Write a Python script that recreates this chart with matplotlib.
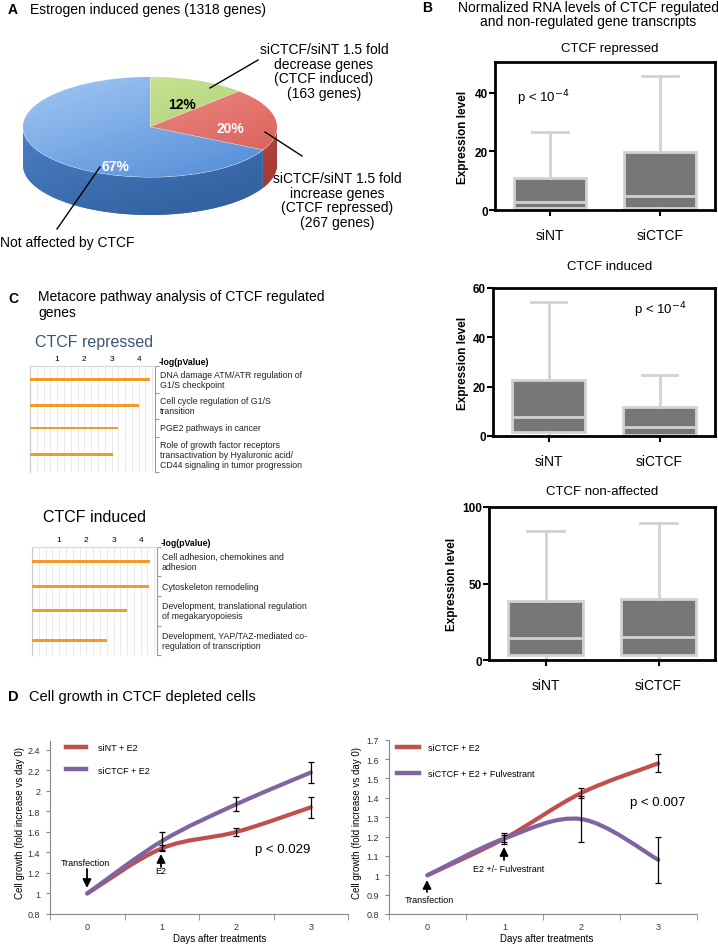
import numpy as np
import matplotlib
matplotlib.use('Agg')
import matplotlib.pyplot as plt
from matplotlib.patches import Wedge, Polygon, PathPatch
from matplotlib.path import Path
from matplotlib.transforms import Affine2D
from matplotlib.colors import LinearSegmentedColormap

plt.rcParams['font.family'] = ['Liberation Sans', 'DejaVu Sans']

# ---------------- data ----------------
# A: estrogen induced genes split by CTCF effect
pie_genes = [163, 267, 888]          # CTCF induced, CTCF repressed, not affected

# B: box plots, five-number summaries (low whisker, q1, median, q3, high whisker)
box_groups = ['siNT', 'siCTCF']
box_repressed = [[0, 0.6, 2.8, 10.8, 26.6], [0, 0.8, 4.8, 19.7, 45.7]]
box_induced = [[0, 1.8, 7.8, 22.8, 54.5], [0, 0.6, 3.6, 11.9, 24.9]]
box_nonaffected = [[0, 3.0, 14.7, 38.5, 84.4], [0, 3.0, 15.0, 40.0, 89.8]]

# C: Metacore pathways, -log(pValue)
rep_pathways = ['DNA damage ATM/ATR regulation of\nG1/S checkpoint',
                'Cell cycle regulation of G1/S\ntransition',
                'PGE2 pathways in cancer',
                'Role of growth factor receptors\ntransactivation by Hyaluronic acid/\nCD44 signaling in tumor progression']
rep_logp = [4.4, 4.0, 3.25, 3.07]
ind_pathways = ['Cell adhesion, chemokines and\nadhesion',
                'Cytoskeleton remodeling',
                'Development, translational regulation\nof megakaryopoiesis',
                'Development, YAP/TAZ-mediated co-\nregulation of transcription']
ind_logp = [4.35, 4.3, 3.5, 2.77]

# D: cell growth (fold increase vs day 0)
days = [0, 1, 2, 3]
sint_e2 = [1.0, 1.44, 1.60, 1.84]
sint_e2_err = [0, 0.03, 0.035, 0.10]
sictcf_e2 = [1.0, 1.51, 1.87, 2.18]
sictcf_e2_err = [0, 0.09, 0.07, 0.10]
sictcf_e2b = [1.0, 1.19, 1.425, 1.578]
sictcf_e2b_err = [0, 0.03, 0.028, 0.046]
sictcf_fulv = [1.0, 1.19, 1.29, 1.08]
sictcf_fulv_err = [0, 0.02, 0.12, 0.12]

RED = '#c0504d'
PURPLE = '#8064a2'

W, H = 718, 945
fig = plt.figure(figsize=(W / 100, H / 100), dpi=100)


def ax_px(l, t, r, b):
    return fig.add_axes([l / W, 1 - b / H, (r - l) / W, (b - t) / H])


def txt(x, y, s, **kw):
    kw.setdefault('va', 'center')
    return fig.text(x / W, 1 - y / H, s, **kw)


# ---------------- B: box plots ----------------
def boxpanel(rect, data, ymax, yticks):
    ax = ax_px(*rect)
    stats = [dict(whislo=r[0], q1=r[1], med=r[2], q3=r[3], whishi=r[4], label=g)
             for r, g in zip(data, box_groups)]
    light = '#d2d2d2'
    ax.bxp(stats, positions=[1, 2], widths=0.66, capwidths=0.32, showfliers=False,
           patch_artist=True,
           boxprops=dict(facecolor='#777777', edgecolor=light, lw=2),
           whiskerprops=dict(color=light, lw=2), capprops=dict(color=light, lw=2),
           medianprops=dict(color=light, lw=2))
    ax.set_xlim(0.5, 2.5)
    ax.set_ylim(0, ymax)
    ax.set_yticks(yticks)
    for s in ax.spines.values():
        s.set_linewidth(2)
    ax.tick_params(axis='y', length=4, width=1.5, labelsize=8.5, pad=1)
    ax.tick_params(axis='x', length=4, width=1.5, labelsize=10, pad=9)
    for lb in ax.get_yticklabels():
        lb.set_fontweight('bold')
    return ax


boxpanel((495, 63, 715, 211), box_repressed, 50.5, [0, 20, 40])
boxpanel((493, 289, 715, 437), box_induced, 60, [0, 20, 40, 60])
boxpanel((489, 508, 715, 661), box_nonaffected, 100, [0, 50, 100])

txt(427, 8, 'B', fontsize=10, fontweight='bold', ha='center')
txt(588, 15, 'Normalized RNA levels of CTCF regulated\nand non-regulated gene transcripts',
    fontsize=10, ha='center', linespacing=1.05)
txt(610, 49, 'CTCF repressed', fontsize=9.5, ha='center')
txt(610, 267, 'CTCF induced', fontsize=9.5, ha='center')
txt(602, 492, 'CTCF non-affected', fontsize=9.5, ha='center')
for x, y in [(463, 137), (463, 363), (452, 584)]:
    txt(x, y, 'Expression level', fontsize=8.5, fontweight='bold', rotation=90, ha='center')
txt(543, 98, r'p < 10$^{-4}$', fontsize=9.5, ha='center')
txt(660, 310, r'p < 10$^{-4}$', fontsize=9.5, ha='center')


# ---------------- C: pathway bars ----------------
def pathpanel(rect, names, vals):
    ax = ax_px(*rect)
    units = [n.count('\n') + 2 for n in names]
    edges = np.concatenate([[0], np.cumsum(units)])
    centers = (edges[:-1] + edges[1:]) / 2
    ax.barh(centers, vals, height=0.3, color='#f39a2b', zorder=3)
    ax.set_xlim(0, 4.6)
    ax.set_ylim(edges[-1], 0)
    ax.set_xticks([1, 2, 3, 4])
    ax.set_xticks(np.arange(0.25, 4.6, 0.25), minor=True)
    ax.xaxis.tick_top()
    ax.tick_params(axis='x', which='both', length=0, labelsize=6, pad=3)
    ax.grid(axis='x', which='both', color='#e6e6e6', lw=0.6)
    ax.yaxis.tick_right()
    ax.set_yticks(edges)
    ax.set_yticklabels([])
    ax.tick_params(axis='y', length=3, color='#999999', width=0.8)
    ax.spines['bottom'].set_visible(False)
    ax.spines['top'].set_color('#d8d8d8')
    ax.spines['left'].set_color('#c8c8c8')
    ax.spines['right'].set_color('#9a9a9a')
    for s in ax.spines.values():
        s.set_linewidth(0.8)
    for c, n in zip(centers, names):
        ax.text(1.04, c, n, transform=ax.get_yaxis_transform(), fontsize=6.3,
                va='center', ha='left', color='#222222', linespacing=1.15)
    ax.text(1.03, 1.0, '-log(pValue)', transform=ax.transAxes, fontsize=6.3,
            fontweight='bold', va='bottom', ha='left')
    return ax


ca = pathpanel((30, 367, 155, 473), rep_pathways, rep_logp)
cb = pathpanel((32, 548, 157, 656), ind_pathways, ind_logp)

txt(8, 299, 'C', fontsize=10, fontweight='bold')
txt(38, 305, 'Metacore pathway analysis of CTCF regulated\ngenes', fontsize=10,
    linespacing=1.2)
txt(35, 342, 'CTCF repressed', fontsize=11.5, color='#3d5575')
txt(43, 518, 'CTCF induced', fontsize=11.5)


# ---------------- D: cell growth ----------------
def smooth(xs, ys):
    pts = np.column_stack([xs, ys]).astype(float)
    n = len(pts)
    verts, codes = [pts[0]], [Path.MOVETO]
    for i in range(n - 1):
        p0, p1, p2, p3 = pts[max(i - 1, 0)], pts[i], pts[i + 1], pts[min(i + 2, n - 1)]
        verts += [p1 + (p2 - p0) / 6, p2 - (p3 - p1) / 6, p2]
        codes += [Path.CURVE4] * 3
    return Path(verts, codes)


def growth(rect, ylim, ystep, series):
    ax = ax_px(*rect)
    for vals, err, col, lab in series:
        ax.add_patch(PathPatch(smooth(days, vals), fill=False, edgecolor=col, lw=3,
                               capstyle='round', zorder=2))
        ax.plot([], [], color=col, lw=3.2, label=lab)
        ax.errorbar(days[1:], vals[1:], yerr=err[1:], fmt='none', ecolor='k',
                    elinewidth=0.9, capsize=2.5, capthick=0.9, zorder=3)
    ax.set_xlim(-0.5, 3.5)
    ax.set_ylim(*ylim)
    ax.set_xticks(days)
    ax.set_xticks(np.array(days + [days[-1] + 1]) - 0.5, minor=True)
    yt = np.arange(ylim[0], ylim[1] + 1e-6, ystep)
    ax.set_yticks(yt)
    ax.set_yticklabels([f'{round(v, 2):g}' for v in yt])
    ax.tick_params(axis='x', which='major', length=0, pad=6)
    ax.tick_params(axis='x', which='minor', length=4, color='#888888')
    ax.tick_params(axis='y', length=3, color='#888888', pad=4)
    ax.tick_params(labelsize=6.5, labelcolor='#333333')
    for s in ['top', 'right']:
        ax.spines[s].set_visible(False)
    for s in ['left', 'bottom']:
        ax.spines[s].set_color('#888888')
        ax.spines[s].set_linewidth(0.8)
    return ax


da = growth((50, 741.7, 348, 915), (0.8, 2.4), 0.2,
            [(sint_e2, sint_e2_err, RED, 'siNT + E2'),
             (sictcf_e2, sictcf_e2_err, PURPLE, 'siCTCF + E2')])
da.set_ylim(0.8, 2.49)
da.legend(loc='upper left', bbox_to_anchor=(66 / W, 1 - 744 / H), bbox_transform=fig.transFigure,
          frameon=False, fontsize=6.5, handlelength=2.2, handletextpad=1.3, labelspacing=1.5,
          borderaxespad=0, borderpad=0)

db = growth((389, 740.7, 696.7, 915), (0.8, 1.7), 0.1,
            [(sictcf_e2b, sictcf_e2b_err, RED, 'siCTCF + E2'),
             (sictcf_fulv, sictcf_fulv_err, PURPLE, 'siCTCF + E2 + Fulvestrant')])
db.legend(loc='upper left', bbox_to_anchor=(397 / W, 1 - 744 / H), bbox_transform=fig.transFigure,
          frameon=False, fontsize=6.5, handlelength=2.4, handletextpad=1.0, labelspacing=1.9,
          borderaxespad=0, borderpad=0)

txt(8, 697, 'D', fontsize=10.5, fontweight='bold')
txt(29, 697, 'Cell growth in CTCF depleted cells', fontsize=10.5)
txt(20, 823, 'Cell growth (fold increase vs day 0)', fontsize=7, rotation=90, ha='center')
txt(357, 823, 'Cell growth (fold increase vs day 0)', fontsize=7, rotation=90, ha='center')
txt(220, 939, 'Days after treatments', fontsize=7, ha='center')
txt(547, 939, 'Days after treatments', fontsize=7, ha='center')
txt(283, 850, 'p < 0.029', fontsize=9.5, ha='center')
txt(658, 803, 'p < 0.007', fontsize=9.5, ha='center')
txt(85, 863, 'Transfection', fontsize=6.5, ha='center')
txt(161, 872, 'E2', fontsize=6.5, ha='center')
txt(509, 870, 'E2 +/- Fulvestrant', fontsize=6.5, ha='center')
txt(429, 901, 'Transfection', fontsize=6.5, ha='center')

# ---------------- overlay in pixel units: pie, leader lines, arrows ----------------
ov = fig.add_axes([0, 0, 1, 1], zorder=10)
ov.set_facecolor('none')
ov.axis('off')

cx, cy, rx, ry, depth = 150, 128, 127, 50, 38
tops = [('#d3ea9f', '#9fc764'), ('#f39a92', '#d85a54'), ('#a3c8f4', '#4f8ad6')]
sides = [('#8fb35a', '#6f9040'), ('#c8504a', '#9c3430'), ('#4a7fc4', '#2f5c9a')]
pcts = np.array(pie_genes) / sum(pie_genes) * 100
bounds = 90 - np.concatenate([[0], np.cumsum(pcts)]) * 3.6


def shade(patch, c1, c2, box):
    ov.add_patch(patch)
    x0, x1, y0, y1 = box
    t = np.linspace(0, 1, 80)
    g = 0.45 * t[None, :] + 0.55 * t[:, None]
    im = ov.imshow(g, cmap=LinearSegmentedColormap.from_list('g', [c1, c2]),
                   extent=(x0, x1, y1, y0), origin='upper', aspect='auto',
                   interpolation='bilinear', zorder=patch.get_zorder())
    im.set_clip_path(patch)


def ell(th):
    th = np.radians(th)
    return np.column_stack([cx + rx * np.cos(th), cy - ry * np.sin(th)])


for i in range(len(pie_genes)):
    hi, lo = bounds[i], bounds[i + 1]
    for k in (-360, 0, 360):
        a, b = max(lo, -180 + k), min(hi, k)
        if b > a:
            top = ell(np.linspace(b, a, 80))
            poly = np.vstack([top, (top + [0, depth])[::-1]])
            shade(Polygon(poly, closed=True, facecolor=sides[i][0], edgecolor='none', zorder=1),
                  sides[i][0], sides[i][1], (cx - rx, cx + rx, cy, cy + ry + depth))
for i in range(len(pie_genes)):
    w = Wedge((0, 0), 1, bounds[i + 1], bounds[i], facecolor=tops[i][0],
              edgecolor='#f4f4f4', lw=0.6, zorder=2)
    w.set_transform(Affine2D().scale(rx, -ry).translate(cx, cy) + ov.transData)
    shade(w, tops[i][0], tops[i][1], (cx - rx, cx + rx, cy - ry, cy + ry))

ov.set_xlim(0, W)
ov.set_ylim(H, 0)

pct_pos = [(182, 105), (230, 129), (115, 167)]
pct_col = ['black', 'white', 'white']
for p, (x, y), c in zip(pcts, pct_pos, pct_col):
    ov.text(x, y, f'{p:.0f}%', fontsize=10, fontweight='bold', color=c, ha='center',
            va='center', zorder=5)

for (x0, y0), (x1, y1) in [((258, 61), (210, 89)), ((302, 157), (265, 133)),
                           ((57, 230), (100, 168))]:
    ov.plot([x0, x1], [y0, y1], color='black', lw=1, zorder=6)

txt(8, 10, 'A', fontsize=10, fontweight='bold')
txt(30, 10, 'Estrogen induced genes (1318 genes)', fontsize=10)
txt(324, 72, 'siCTCF/siNT 1.5 fold\ndecrease genes\n(CTCF induced)\n(163 genes)',
    fontsize=10, ha='center', linespacing=1.05)
txt(337, 201, 'siCTCF/siNT 1.5 fold\nincrease genes\n(CTCF repressed)\n(267 genes)',
    fontsize=10, ha='center', linespacing=1.05)
txt(0, 243, 'Not affected by CTCF', fontsize=10)

arrow = dict(arrowstyle='-|>,head_length=0.5,head_width=0.25', color='black', lw=1.3,
             shrinkA=0, shrinkB=0)
for (x, y_tail, y_head) in [(87, 870, 889), (161, 868, 855), (504, 861, 848), (427, 893, 881)]:
    ov.annotate('', xy=(x, y_head), xytext=(x, y_tail), arrowprops=arrow, zorder=6)

fig.savefig('out.png', dpi=100)
